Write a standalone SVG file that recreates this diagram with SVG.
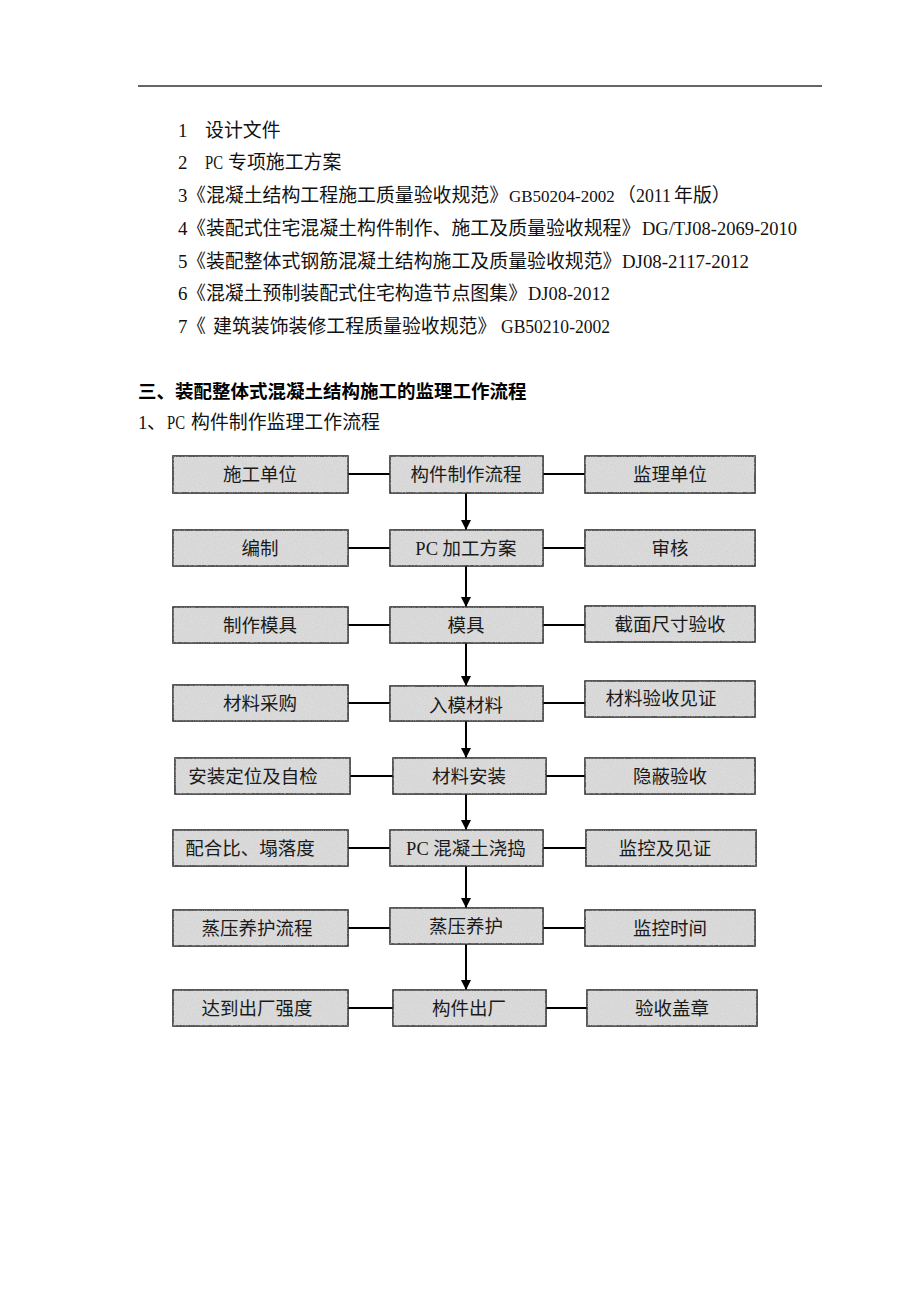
<svg xmlns="http://www.w3.org/2000/svg" width="920" height="1302" viewBox="0 0 920 1302">
<style>
  .n { font-family: "Liberation Serif", serif; font-size: 18.9px; fill: #111; }
  .c { font-family: "Noto Sans CJK SC", sans-serif; font-size: 18.9px; fill: #111; }
  .h { font-family: "Liberation Sans", "Noto Sans CJK SC", sans-serif; font-size: 18.5px; font-weight: bold; fill: #000; }
  .box { fill: #dcdcdc; stroke: #2e2e2e; stroke-width: 1.6; }
  .tex { fill: #fff; filter: url(#noise); }
  .bt { font-family: "Liberation Serif", "Noto Sans CJK SC", serif; font-size: 18.5px; fill: #1a1a1a; text-anchor: middle; }
  .con line { stroke: #000; stroke-width: 2; }
  .arr { stroke: #000; stroke-width: 2; marker-end: url(#ah); }
</style>
<defs>
  <marker id="ah" viewBox="0 0 10 10" refX="10" refY="5" markerWidth="5" markerHeight="5" orient="auto" markerUnits="strokeWidth">
    <path d="M0,0 L10,5 L0,10 z" fill="#000"/>
  </marker>
  <filter id="noise" x="0" y="0" width="100%" height="100%">
    <feTurbulence type="fractalNoise" baseFrequency="0.9" numOctaves="2" seed="3" result="n"/>
    <feColorMatrix in="n" type="matrix" values="0 0 0 0 0.6  0 0 0 0 0.6  0 0 0 0 0.6  0 0 0 1.2 -0.4" result="g"/>
    <feComposite in="g" in2="SourceGraphic" operator="in"/>
  </filter>
</defs>
<rect x="0" y="0" width="920" height="1302" fill="#fff"/>

<g id="header-rule">
  <line x1="138" y1="86" x2="822" y2="86" stroke="#333" stroke-width="1.5"/>
</g>

<g id="reference-list">
  <text class="n" x="178" y="137">1</text>
  <text class="c" x="205" y="137">设计文件</text>

  <text class="n" x="178" y="169">2</text>
  <text class="n" x="205" y="169" textLength="18" lengthAdjust="spacingAndGlyphs">PC</text>
  <text class="c" x="228" y="169">专项施工方案</text>

  <text class="n" x="178" y="202">3</text>
  <text class="c" x="187" y="202">《混凝土结构工程施工质量验收规范》</text>
  <text class="n" x="509" y="202" style="font-size:17px">GB50204-2002</text>
  <text class="c" x="617" y="202">（</text>
  <text class="n" x="636" y="202" textLength="35" lengthAdjust="spacingAndGlyphs">2011</text>
  <text class="c" x="674" y="202">年版）</text>

  <text class="n" x="178" y="235">4</text>
  <text class="c" x="187" y="235">《装配式住宅混凝土构件制作、施工及质量验收规程》</text>
  <text class="n" x="642" y="235" textLength="155" lengthAdjust="spacingAndGlyphs">DG/TJ08-2069-2010</text>

  <text class="n" x="178" y="268">5</text>
  <text class="c" x="187" y="268">《装配整体式钢筋混凝土结构施工及质量验收规范》</text>
  <text class="n" x="622" y="268" textLength="127" lengthAdjust="spacingAndGlyphs">DJ08-2117-2012</text>

  <text class="n" x="178" y="300">6</text>
  <text class="c" x="187" y="300">《混凝土预制装配式住宅构造节点图集》</text>
  <text class="n" x="528" y="300" textLength="82" lengthAdjust="spacingAndGlyphs">DJ08-2012</text>

  <text class="n" x="178" y="333">7</text>
  <text class="c" x="187" y="333">《</text>
  <text class="c" x="213" y="333">建筑装饰装修工程质量验收规范》</text>
  <text class="n" x="501" y="333" textLength="109" lengthAdjust="spacingAndGlyphs">GB50210-2002</text>
</g>

<g id="headings">
  <text class="h" x="138" y="398">三、装配整体式混凝土结构施工的监理工作流程</text>
  <text class="n" x="138" y="429">1</text>
  <text class="c" x="147" y="429">、</text>
  <text class="n" x="167" y="429" textLength="18" lengthAdjust="spacingAndGlyphs">PC</text>
  <text class="c" x="191" y="429">构件制作监理工作流程</text>
</g>

<g id="connectors" class="con">
  <line x1="348" y1="474" x2="390" y2="474"/>
  <line x1="543" y1="474" x2="585" y2="474"/>
  <line x1="348" y1="548" x2="390" y2="548"/>
  <line x1="543" y1="548" x2="585" y2="548"/>
  <line x1="348" y1="625" x2="390" y2="625"/>
  <line x1="543" y1="625" x2="585" y2="625"/>
  <line x1="348" y1="703" x2="390" y2="703"/>
  <line x1="543" y1="703" x2="585" y2="703"/>
  <line x1="350" y1="776" x2="393" y2="776"/>
  <line x1="546" y1="776" x2="585" y2="776"/>
  <line x1="348" y1="848" x2="390" y2="848"/>
  <line x1="543" y1="848" x2="586" y2="848"/>
  <line x1="348" y1="928" x2="390" y2="928"/>
  <line x1="543" y1="928" x2="585" y2="928"/>
  <line x1="348" y1="1008" x2="393" y2="1008"/>
  <line x1="546" y1="1008" x2="587" y2="1008"/>
  <line class="arr" x1="466" y1="493" x2="466" y2="530"/>
  <line class="arr" x1="466" y1="566" x2="466" y2="607"/>
  <line class="arr" x1="466" y1="643" x2="466" y2="686"/>
  <line class="arr" x1="466" y1="721" x2="466" y2="758"/>
  <line class="arr" x1="466" y1="794" x2="466" y2="830"/>
  <line class="arr" x1="466" y1="866" x2="466" y2="908"/>
  <line class="arr" x1="466" y1="944" x2="466" y2="990"/>
</g>

<g id="n-sgdw"><rect class="box" x="173" y="456" width="175" height="37"/><rect class="tex" x="173" y="456" width="175" height="37"/><text class="bt" x="260" y="481">施工单位</text></g>
<g id="n-gjzzlc"><rect class="box" x="390" y="456" width="153" height="37"/><rect class="tex" x="390" y="456" width="153" height="37"/><text class="bt" x="466" y="481">构件制作流程</text></g>
<g id="n-jldw"><rect class="box" x="585" y="456" width="170" height="37"/><rect class="tex" x="585" y="456" width="170" height="37"/><text class="bt" x="670" y="481">监理单位</text></g>

<g id="n-bz"><rect class="box" x="173" y="530" width="175" height="36"/><rect class="tex" x="173" y="530" width="175" height="36"/><text class="bt" x="260" y="555">编制</text></g>
<g id="n-pcjgfa"><rect class="box" x="390" y="530" width="153" height="36"/><rect class="tex" x="390" y="530" width="153" height="36"/><text class="bt" x="466" y="555">PC 加工方案</text></g>
<g id="n-sh"><rect class="box" x="585" y="530" width="170" height="36"/><rect class="tex" x="585" y="530" width="170" height="36"/><text class="bt" x="670" y="555">审核</text></g>

<g id="n-zzmj"><rect class="box" x="173" y="607" width="175" height="36"/><rect class="tex" x="173" y="607" width="175" height="36"/><text class="bt" x="260" y="632">制作模具</text></g>
<g id="n-mj"><rect class="box" x="390" y="607" width="153" height="36"/><rect class="tex" x="390" y="607" width="153" height="36"/><text class="bt" x="466" y="632">模具</text></g>
<g id="n-jmccys"><rect class="box" x="585" y="606" width="170" height="36"/><rect class="tex" x="585" y="606" width="170" height="36"/><text class="bt" x="670" y="631">截面尺寸验收</text></g>

<g id="n-clcg"><rect class="box" x="173" y="685" width="175" height="36"/><rect class="tex" x="173" y="685" width="175" height="36"/><text class="bt" x="260" y="710">材料采购</text></g>
<g id="n-rmcl"><rect class="box" x="390" y="686" width="153" height="35"/><rect class="tex" x="390" y="686" width="153" height="35"/><text class="bt" x="466" y="712">入模材料</text></g>
<g id="n-clysjz"><rect class="box" x="585" y="681" width="170" height="36"/><rect class="tex" x="585" y="681" width="170" height="36"/><text class="bt" x="661" y="705">材料验收见证</text></g>

<g id="n-azdw"><rect class="box" x="175" y="758" width="175" height="36"/><rect class="tex" x="175" y="758" width="175" height="36"/><text class="bt" x="253" y="783">安装定位及自检</text></g>
<g id="n-claz"><rect class="box" x="393" y="758" width="153" height="36"/><rect class="tex" x="393" y="758" width="153" height="36"/><text class="bt" x="469" y="783">材料安装</text></g>
<g id="n-ybys"><rect class="box" x="585" y="758" width="170" height="36"/><rect class="tex" x="585" y="758" width="170" height="36"/><text class="bt" x="670" y="783">隐蔽验收</text></g>

<g id="n-phb"><rect class="box" x="173" y="830" width="175" height="36"/><rect class="tex" x="173" y="830" width="175" height="36"/><text class="bt" x="250" y="855">配合比、塌落度</text></g>
<g id="n-pchnt"><rect class="box" x="390" y="830" width="153" height="36"/><rect class="tex" x="390" y="830" width="153" height="36"/><text class="bt" x="466" y="855">PC 混凝土浇捣</text></g>
<g id="n-jkjjz"><rect class="box" x="586" y="830" width="170" height="36"/><rect class="tex" x="586" y="830" width="170" height="36"/><text class="bt" x="665" y="855">监控及见证</text></g>

<g id="n-zyyhlc"><rect class="box" x="173" y="910" width="175" height="36"/><rect class="tex" x="173" y="910" width="175" height="36"/><text class="bt" x="257" y="935">蒸压养护流程</text></g>
<g id="n-zyyh"><rect class="box" x="390" y="908" width="153" height="36"/><rect class="tex" x="390" y="908" width="153" height="36"/><text class="bt" x="466" y="933">蒸压养护</text></g>
<g id="n-jksj"><rect class="box" x="585" y="910" width="170" height="36"/><rect class="tex" x="585" y="910" width="170" height="36"/><text class="bt" x="670" y="935">监控时间</text></g>

<g id="n-ddccqd"><rect class="box" x="173" y="990" width="175" height="36"/><rect class="tex" x="173" y="990" width="175" height="36"/><text class="bt" x="257" y="1015">达到出厂强度</text></g>
<g id="n-gjcc"><rect class="box" x="393" y="990" width="153" height="36"/><rect class="tex" x="393" y="990" width="153" height="36"/><text class="bt" x="469" y="1015">构件出厂</text></g>
<g id="n-ysgz"><rect class="box" x="587" y="990" width="170" height="36"/><rect class="tex" x="587" y="990" width="170" height="36"/><text class="bt" x="672" y="1015">验收盖章</text></g>
</svg>
